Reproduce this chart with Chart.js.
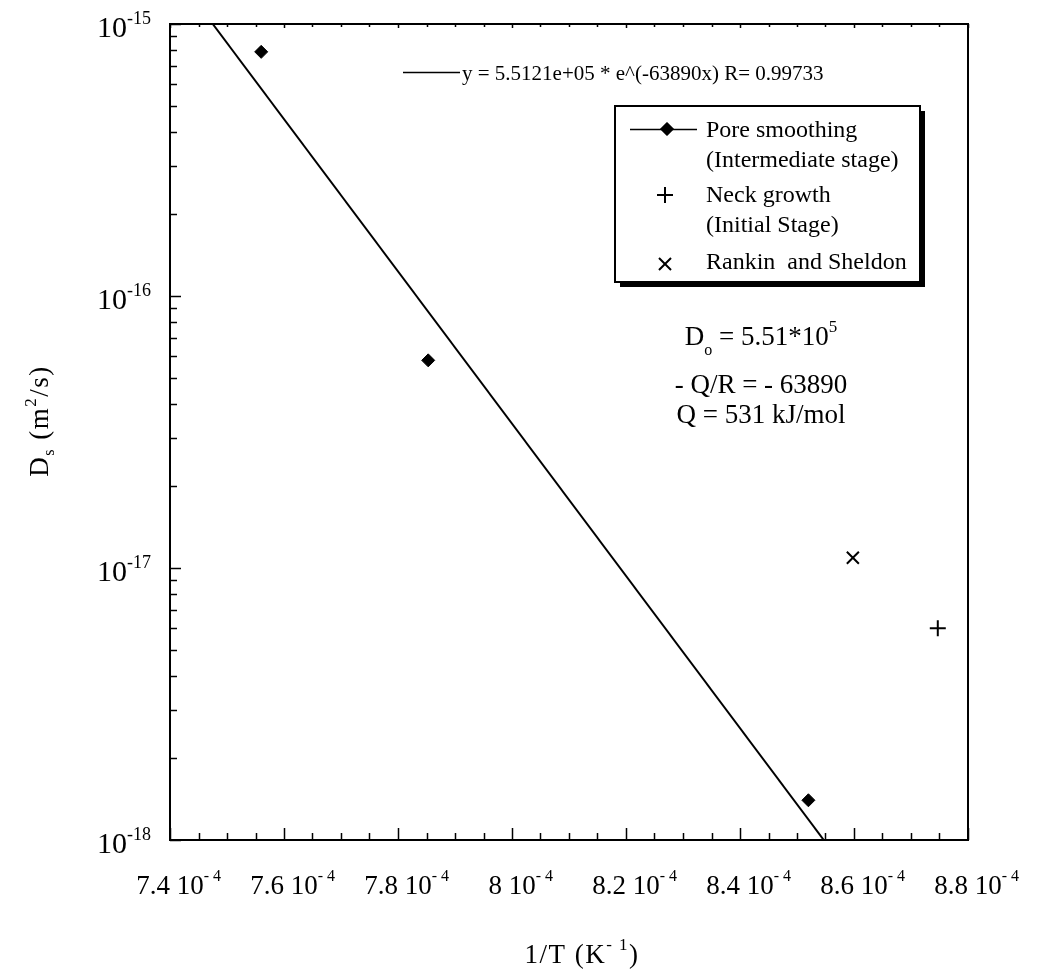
<!DOCTYPE html>
<html>
<head>
<meta charset="utf-8">
<script src="https://cdn.jsdelivr.net/npm/chart.js@4/dist/chart.umd.min.js"></script>
<style>
html,body{margin:0;padding:0;background:#fff;}
#wrap{width:1037px;height:975px;position:relative;}
</style>
</head>
<body>
<div id="wrap"><canvas id="c" width="1037" height="975"></canvas></div>
<script>
// ---- data ----
const poreX = [7.56e-4, 7.853e-4, 8.52e-4];
const poreY = [7.9e-16, 5.8e-17, 1.4e-18];
const neckX = [8.747e-4];
const neckY = [6.0e-18];
const rankinX = [8.598e-4];
const rankinY = [1.09e-17];
const fitX = [7.475e-4, 8.547e-4];
const fitY = [1e-15, 1e-18];

const xTickValues = [7.4e-4, 7.6e-4, 7.8e-4, 8.0e-4, 8.2e-4, 8.4e-4, 8.6e-4, 8.8e-4];
const xTickMantissas = ['7.4', '7.6', '7.8', '8', '8.2', '8.4', '8.6', '8.8'];
const xTickExponent = '- 4';
const yTickExponents = [-15, -16, -17, -18];

const seriesNames = ['Pore smoothing', 'Neck growth', 'Rankin  and Sheldon'];
const seriesNotes = ['(Intermediate stage)', '(Initial Stage)', ''];
const fitLabel = 'y = 5.5121e+05 * e^(-63890x) R= 0.99733';

const toPts = (xs, ys) => xs.map((x, i) => ({x: x, y: ys[i]}));
const SERIF = '"Liberation Serif", "Times New Roman", serif';

function richWidth(ctx, parts, ls) {
  let w = 0;
  ctx.letterSpacing = (ls || 0) + 'px';
  for (const p of parts) { ctx.font = p.size + 'px ' + SERIF; w += ctx.measureText(p.t).width; }
  return w;
}
function drawRich(ctx, parts, x, y, align, ls) {
  const w = richWidth(ctx, parts, ls);
  let cx = x;
  if (align === 'center') cx = x - w / 2;
  else if (align === 'right') cx = x - w;
  ctx.textAlign = 'left';
  ctx.textBaseline = 'alphabetic';
  for (const p of parts) {
    ctx.font = p.size + 'px ' + SERIF;
    ctx.fillText(p.t, cx, y + (p.dy || 0));
    cx += ctx.measureText(p.t).width;
  }
  ctx.letterSpacing = '0px';
}

const decor = {
  id: 'decor',
  afterDatasetsDraw(chart) {
    const ctx = chart.ctx;
    const a = chart.chartArea;
    const xs = chart.scales.x, ys = chart.scales.y;
    ctx.save();
    ctx.fillStyle = '#000';
    ctx.strokeStyle = '#000';
    // frame
    ctx.lineWidth = 2;
    ctx.strokeRect(a.left, a.top, a.right - a.left, a.bottom - a.top);
    // x ticks (inward on bottom, tiny on top)
    ctx.lineWidth = 1.5;
    const xmin = xs.min, xmax = xs.max;
    const step = 0.05e-4;
    for (let i = 0; xmin + i * step <= xmax + 1e-12; i++) {
      const v = xmin + i * step;
      const px = Math.round(xs.getPixelForValue(v)) + 0.5;
      const major = i % 4 === 0;
      ctx.beginPath();
      ctx.moveTo(px, a.bottom); ctx.lineTo(px, a.bottom - (major ? 12 : 7));
      ctx.moveTo(px, a.top); ctx.lineTo(px, a.top + (major ? 4 : 3));
      ctx.stroke();
    }
    // y ticks (log, inward on left)
    for (let e = -18; e <= -15; e++) {
      for (let m = 1; m <= 9; m++) {
        const v = m * Math.pow(10, e);
        if (v > ys.max * 1.0001) break;
        const py = Math.round(ys.getPixelForValue(v)) + 0.5;
        ctx.beginPath();
        ctx.moveTo(a.left, py); ctx.lineTo(a.left + (m === 1 ? 11 : 7), py);
        ctx.stroke();
      }
    }
    // y tick labels
    for (const e of yTickExponents) {
      const py = ys.getPixelForValue(Math.pow(10, e));
      drawRich(ctx, [{t: '10', size: 30}, {t: String(e), size: 18, dy: -13}], a.left - 19, py + 13, 'right');
    }
    // x tick labels: base text centred on tick, exponent appended
    xTickValues.forEach((v, i) => {
      const px = xs.getPixelForValue(v);
      const base = xTickMantissas[i] + ' 10';
      ctx.font = '27px ' + SERIF;
      const bw = ctx.measureText(base).width;
      drawRich(ctx, [{t: base, size: 27}, {t: xTickExponent, size: 16, dy: -13}], px - bw / 2, a.bottom + 54, 'left');
    });
    // axis titles
    drawRich(ctx, [{t: '1/T (K', size: 27}, {t: '- 1', size: 17, dy: -13}, {t: ')', size: 27}], 582, 963, 'center', 1.5);
    ctx.save();
    ctx.translate(48, 421);
    ctx.rotate(-Math.PI / 2);
    drawRich(ctx, [{t: 'D', size: 27}, {t: 's', size: 16, dy: 6}, {t: ' (m', size: 27}, {t: '2', size: 17, dy: -12}, {t: '/s)', size: 27}], 0, 0, 'center', 1.5);
    ctx.restore();
    // fit label
    ctx.lineWidth = 1.5;
    ctx.beginPath(); ctx.moveTo(403, 72.5); ctx.lineTo(460, 72.5); ctx.stroke();
    drawRich(ctx, [{t: fitLabel, size: 21}], 462, 80, 'left');
    // legend box with shadow
    const bx = 615, by = 106, bw = 305, bh = 176, sh = 5;
    ctx.fillRect(bx + sh, by + sh, bw, bh);
    ctx.fillStyle = '#fff';
    ctx.fillRect(bx, by, bw, bh);
    ctx.fillStyle = '#000';
    ctx.lineWidth = 2;
    ctx.strokeRect(bx, by, bw, bh);
    // legend entries
    const ds = chart.data.datasets;
    const symX = 665;
    ctx.lineWidth = 1.5;
    ctx.beginPath(); ctx.moveTo(630, 129.5); ctx.lineTo(697, 129.5); ctx.stroke();
    const symY = [129, 195, 264];
    const textY = [137, 202, 269];
    const noteY = [167, 232, 0];
    symY.forEach((sy, i) => {
      const d = ds[i];
      ctx.lineWidth = d.borderWidth;
      Chart.helpers.drawPoint(ctx, {pointStyle: d.pointStyle, radius: d.pointRadius, borderWidth: d.borderWidth, rotation: 0}, symX + (i === 0 ? 2 : 0), sy);
      if (d.pointStyle === 'rectRot') { ctx.fill(); }
      drawRich(ctx, [{t: seriesNames[i], size: 24}], 706, textY[i], 'left');
      if (seriesNotes[i]) drawRich(ctx, [{t: seriesNotes[i], size: 24}], 706, noteY[i], 'left');
    });
    // annotations
    drawRich(ctx, [{t: 'D', size: 27}, {t: 'o', size: 16, dy: 10}, {t: ' = 5.51*10', size: 27}, {t: '5', size: 17, dy: -13}], 761, 345, 'center');
    drawRich(ctx, [{t: '- Q/R = - 63890', size: 27}], 761, 393, 'center');
    drawRich(ctx, [{t: 'Q = 531 kJ/mol', size: 27}], 761, 423, 'center');
    ctx.restore();
  }
};

new Chart(document.getElementById('c'), {
  type: 'scatter',
  data: {
    datasets: [
      {label: seriesNames[0], data: toPts(poreX, poreY), pointStyle: 'rectRot', pointRadius: 6.5,
       backgroundColor: '#000', borderColor: '#000', borderWidth: 1, showLine: false},
      {label: seriesNames[1], data: toPts(neckX, neckY), pointStyle: 'cross', pointRadius: 8,
       backgroundColor: '#000', borderColor: '#000', borderWidth: 2, showLine: false},
      {label: seriesNames[2], data: toPts(rankinX, rankinY), pointStyle: 'crossRot', pointRadius: 8.5,
       backgroundColor: '#000', borderColor: '#000', borderWidth: 2, showLine: false},
      {label: 'fit', data: toPts(fitX, fitY), showLine: true, pointRadius: 0,
       borderColor: '#000', borderWidth: 2, fill: false}
    ]
  },
  options: {
    responsive: false,
    animation: false,
    layout: {padding: {left: 170, top: 24, right: 69, bottom: 135}},
    plugins: {legend: {display: false}, tooltip: {enabled: false}},
    scales: {
      x: {type: 'linear', min: 7.4e-4, max: 8.8e-4, display: false},
      y: {type: 'logarithmic', min: 1e-18, max: 1e-15, display: false}
    }
  },
  plugins: [decor]
});
</script>
</body>
</html>
